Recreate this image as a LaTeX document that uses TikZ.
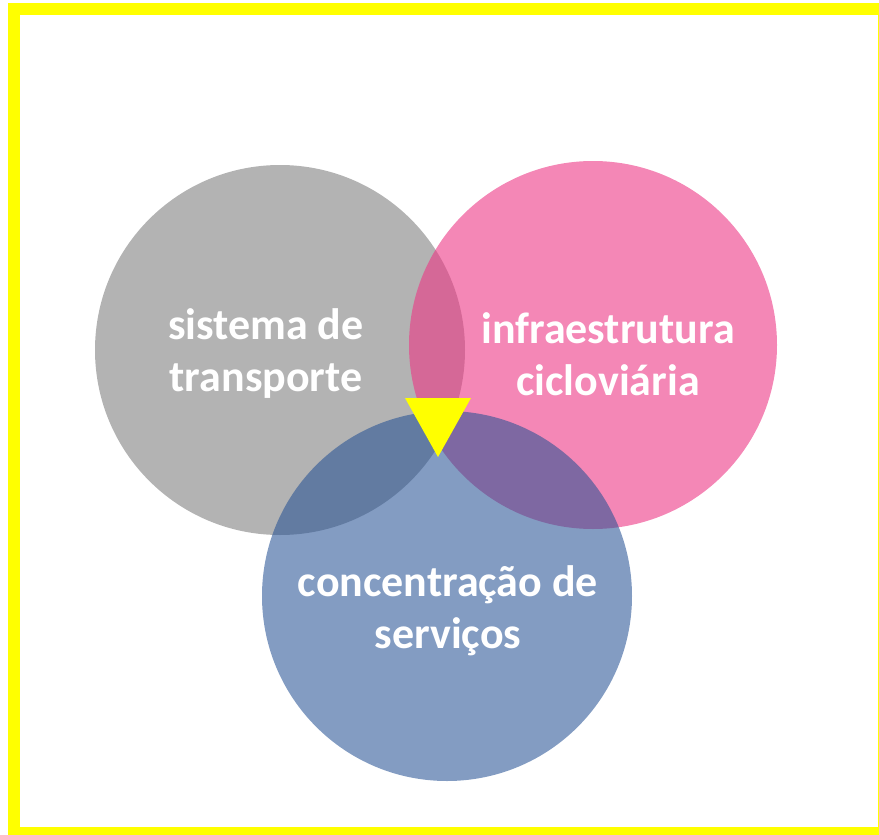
\documentclass[tikz,border=0pt]{standalone}
\usepackage{fontspec}
\setmainfont{Carlito}
\definecolor{transgray}{RGB}{179,179,179}
\definecolor{cyclepink}{RGB}{237,55,133}
\definecolor{serviceblue}{RGB}{37,81,148}
\definecolor{framey}{RGB}{255,255,0}
\begin{document}
\begin{tikzpicture}[x=1pt,y=-1pt,
    setlabel/.style={text=white, align=center, font=\fontsize{44}{52}\selectfont\bfseries}]
            \useasboundingbox (0,0) rectangle (879,835);
            % yellow frame
            \draw[line width=12pt, color=framey] (14,9) rectangle (884,833);
            % the three sets
            \fill[transgray] (280,350) circle (185);
            \fill[cyclepink, fill opacity=0.6] (593,345) circle (184);
            \fill[serviceblue, fill opacity=0.57] (447,596) circle (185);
            % marker at the common zone
            \fill[framey] (405,398) -- (471,398) -- (438,457) -- cycle;
            % labels
            \node[setlabel] (transporte) at (266,354) {sistema de\\transporte};
            \node[setlabel] (ciclovia) at (608,354) {infraestrutura\\cicloviária};
            \node[setlabel] (servicos) at (448,611) {concentração de\\serviços};
        \end{tikzpicture}
\end{document}
